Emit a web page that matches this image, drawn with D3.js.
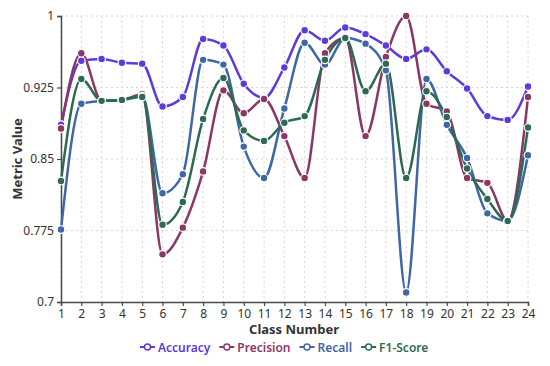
<!DOCTYPE html>
<html>
<head>
<meta charset="utf-8">
<script src="https://cdn.jsdelivr.net/npm/d3@7"></script>
<style>
  body { margin: 0; background: #fff; }
  text { font-family: "Noto Sans", "Open Sans", sans-serif; }
</style>
</head>
<body>
<script>
// class numbers 1..24
var classes = [1,2,3,4,5,6,7,8,9,10,11,12,13,14,15,16,17,18,19,20,21,22,23,24]

var accuracy  = [0.886,0.953,0.955,0.951,0.950,0.905,0.915,0.976,0.969,0.929,0.914,0.946,0.985,0.974,0.988,0.981,0.969,0.955,0.965,0.942,0.924,0.895,0.891,0.926]
var precision = [0.882,0.961,0.911,0.912,0.918,0.750,0.778,0.837,0.922,0.898,0.913,0.874,0.830,0.961,0.977,0.874,0.957,1.000,0.908,0.900,0.830,0.825,0.785,0.915]
var recall    = [0.776,0.908,0.911,0.912,0.916,0.814,0.834,0.954,0.949,0.863,0.830,0.903,0.972,0.949,0.977,0.971,0.943,0.710,0.934,0.886,0.851,0.793,0.785,0.854]
var f1score   = [0.827,0.934,0.911,0.912,0.915,0.781,0.805,0.892,0.935,0.880,0.869,0.888,0.895,0.954,0.977,0.921,0.950,0.830,0.921,0.894,0.840,0.808,0.785,0.883]

var yTicks = [0.7, 0.775, 0.85, 0.925, 1]

var seriesNames = ['Accuracy','Precision','Recall','F1-Score']
var seriesData = [accuracy, precision, recall, f1score]
var colors = ['#5b3bdb','#8a3766','#3f67a6','#2e6a52']

var W = 550, H = 366
var svg = d3.select('body').append('svg')
  .attr('width', W)
  .attr('height', H)

var x = d3.scaleLinear().domain([1, 24]).range([61, 528])
var y = d3.scaleLinear().domain([0.7, 1]).range([302, 16])

// grid
svg.append('g')
  .selectAll('line')
  .data(classes)
  .enter().append('line')
  .attr('x1', d => x(d)).attr('x2', d => x(d))
  .attr('y1', y(1)).attr('y2', y(0.7))
  .attr('stroke', '#d6d6d6')
  .attr('stroke-dasharray', '2,3')

svg.append('g')
  .selectAll('line')
  .data(yTicks.slice(1))
  .enter().append('line')
  .attr('x1', x(1)).attr('x2', x(24))
  .attr('y1', d => y(d)).attr('y2', d => y(d))
  .attr('stroke', '#d6d6d6')
  .attr('stroke-dasharray', '2,3')

// axes
var xAxis = svg.append('g')
  .attr('transform', 'translate(0,' + y(0.7) + ')')
  .call(d3.axisBottom(x).tickValues(classes).tickFormat(d3.format('d')).tickSizeOuter(0).tickSize(4))
var yAxis = svg.append('g')
  .attr('transform', 'translate(' + x(1) + ',0)')
  .call(d3.axisLeft(y).tickValues(yTicks).tickFormat(d => String(d)).tickSizeOuter(0).tickSize(4))

xAxis.select('.domain').attr('stroke', '#4a4a4a').attr('stroke-width', 1.5)
yAxis.select('.domain').attr('stroke', '#4a4a4a').attr('stroke-width', 1.5)
svg.selectAll('.tick line').attr('stroke', '#4a4a4a').attr('stroke-width', 1.2)
svg.selectAll('.tick text').attr('fill', '#333').style('font-size', '12px')

// axis titles
svg.append('text')
  .attr('x', 294).attr('y', 334)
  .attr('text-anchor', 'middle')
  .attr('fill', '#333')
  .style('font-size', '13px').style('font-weight', 'bold')
  .text('Class Number')

svg.append('text')
  .attr('transform', 'translate(22,159) rotate(-90)')
  .attr('text-anchor', 'middle')
  .attr('fill', '#333')
  .style('font-size', '13px').style('font-weight', 'bold')
  .text('Metric Value')

// lines
var line = d3.line()
  .x((d, i) => x(classes[i]))
  .y(d => y(d))
  .curve(d3.curveMonotoneX)

seriesData.forEach(function(vals, k) {
  svg.append('path')
    .datum(vals)
    .attr('d', line)
    .attr('fill', 'none')
    .attr('stroke', colors[k])
    .attr('stroke-width', 2.5)
})

seriesData.forEach(function(vals, k) {
  svg.append('g')
    .selectAll('circle')
    .data(vals)
    .enter().append('circle')
    .attr('cx', (d, i) => x(classes[i]))
    .attr('cy', d => y(d))
    .attr('r', 3.8)
    .attr('fill', colors[k])
    .attr('stroke', '#fff')
    .attr('stroke-width', 1.2)
})

// legend
var legend = svg.append('g')
var lx = 140
seriesNames.forEach(function(name, k) {
  var g = legend.append('g').attr('transform', 'translate(' + lx + ',347)')
  g.append('line').attr('x1', 0).attr('x2', 15).attr('y1', 0).attr('y2', 0)
    .attr('stroke', colors[k]).attr('stroke-width', 2)
  g.append('circle').attr('cx', 7.5).attr('cy', 0).attr('r', 3)
    .attr('fill', '#fff').attr('stroke', colors[k]).attr('stroke-width', 1.5)
  var t = g.append('text').attr('x', 18).attr('y', 4.5)
    .attr('fill', colors[k])
    .style('font-size', '12px').style('font-weight', '600')
    .text(name)
  lx += 18 + t.node().getComputedTextLength() + 9
})
</script>
</body>
</html>
